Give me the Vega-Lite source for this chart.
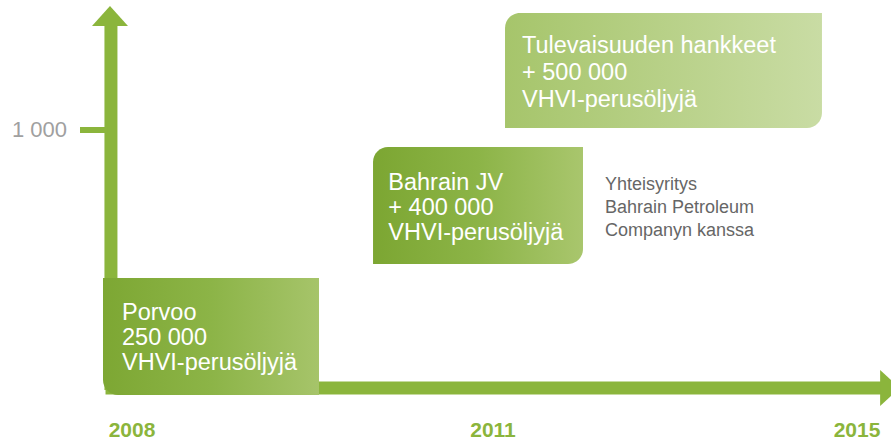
{
  "$schema": "https://vega.github.io/schema/vega-lite/v6.json",
  "width": 891,
  "height": 443,
  "autosize": {"type": "none"},
  "padding": 0,
  "background": "#ffffff",
  "config": {"view": {"stroke": null}, "text": {"font": "Liberation Sans"}},
  "datasets": {
    "frame": [
      {"part": "y-axis", "x": 2007.825, "x2": 2007.825, "y": -7.75, "y2": 1410},
      {"part": "x-axis", "x": 2007.78, "x2": 2015.3, "y": 0, "y2": 0}
    ],
    "ticks": [
      {"value": 1000, "label": "1 000", "x": 2007.568, "x2": 2007.8, "lx": 2007.46, "ly": 972.9}
    ],
    "heads": [
      {"dir": "up", "x": 2007.817, "y": 1442},
      {"dir": "right", "x": 2015.363, "y": 0}
    ],
    "boxes": [
      {"name": "Porvoo", "x": 2007.759, "x2": 2009.554, "y": -27.1, "y2": 426.4},
      {"name": "Bahrain JV", "x": 2010.003, "x2": 2011.989, "y": 480.6, "y2": 934},
      {"name": "Tulevaisuuden hankkeet", "x": 2011.132, "x2": 2014.615, "y": 1007.8, "y2": 1453.5}
    ],
    "lines": [
      {"box": "Porvoo", "text": "Porvoo", "x": 2007.917, "y": 263.6},
      {"box": "Porvoo", "text": "250 000", "x": 2007.917, "y": 166.7},
      {"box": "Porvoo", "text": "VHVI-perusöljyjä", "x": 2007.917, "y": 69.8},
      {"box": "Bahrain JV", "text": "Bahrain JV", "x": 2010.13, "y": 767.4},
      {"box": "Bahrain JV", "text": "+ 400 000", "x": 2010.13, "y": 670.5},
      {"box": "Bahrain JV", "text": "VHVI-perusöljyjä", "x": 2010.13, "y": 573.6},
      {"box": "Tulevaisuuden hankkeet", "text": "Tulevaisuuden hankkeet", "x": 2011.319, "y": 1298.4},
      {"box": "Tulevaisuuden hankkeet", "text": "+ 500 000", "x": 2011.319, "y": 1193.8},
      {"box": "Tulevaisuuden hankkeet", "text": "VHVI-perusöljyjä", "x": 2011.319, "y": 1089.1}
    ],
    "notes": [
      {"text": "Yhteisyritys", "x": 2012.231, "y": 767.4},
      {"text": "Bahrain Petroleum", "x": 2012.231, "y": 678.3},
      {"text": "Companyn kanssa", "x": 2012.231, "y": 589.1}
    ],
    "years": [
      {"label": "2008", "year": 2008, "y": -189.9},
      {"label": "2011", "year": 2011, "y": -189.9},
      {"label": "2015", "year": 2015, "y": -189.9}
    ]
  },
  "layer": [
    {
      "data": {"name": "frame"},
      "mark": {"type": "rule", "color": "#8bb53c", "strokeWidth": 13, "strokeCap": "butt"},
      "encoding": {
        "x": {"field": "x", "type": "quantitative", "scale": {"domain": [2008, 2011, 2015], "range": [132, 493, 857], "nice": false, "zero": false}, "axis": null},
        "x2": {"field": "x2"},
        "y": {"field": "y", "type": "quantitative", "scale": {"domain": [0, 1000], "range": [388, 130], "nice": false, "zero": false}, "axis": null},
        "y2": {"field": "y2"}
      }
    },
    {
      "data": {"name": "ticks"},
      "mark": {"type": "rule", "color": "#8bb53c", "strokeWidth": 6, "strokeCap": "butt"},
      "encoding": {
        "x": {"field": "x", "type": "quantitative"},
        "x2": {"field": "x2"},
        "y": {"field": "value", "type": "quantitative"}
      }
    },
    {
      "data": {"name": "ticks"},
      "mark": {"type": "text", "align": "right", "baseline": "alphabetic", "fontSize": 22, "color": "#a0a0a0"},
      "encoding": {
        "x": {"field": "lx", "type": "quantitative"},
        "y": {"field": "ly", "type": "quantitative"},
        "text": {"field": "label", "type": "nominal"}
      }
    },
    {
      "data": {"name": "heads"},
      "transform": [{"filter": "datum.dir === 'up'"}],
      "mark": {"type": "point", "shape": "M -1 0.56 L 1 0.56 L 0 -0.56 Z", "size": 1296, "filled": true, "opacity": 1, "color": "#8bb53c", "strokeWidth": 0},
      "encoding": {
        "x": {"field": "x", "type": "quantitative"},
        "y": {"field": "y", "type": "quantitative"}
      }
    },
    {
      "data": {"name": "heads"},
      "transform": [{"filter": "datum.dir === 'right'"}],
      "mark": {"type": "point", "shape": "M -0.55 -1 L -0.55 1 L 0.55 0 Z", "size": 1296, "filled": true, "opacity": 1, "color": "#8bb53c", "strokeWidth": 0},
      "encoding": {
        "x": {"field": "x", "type": "quantitative"},
        "y": {"field": "y", "type": "quantitative"}
      }
    },
    {
      "data": {"name": "boxes"},
      "transform": [{"filter": "datum.name === 'Porvoo'"}],
      "mark": {"type": "rect", "cornerRadiusBottomLeft": 15,
        "fill": {"gradient": "linear", "x1": 0, "y1": 0, "x2": 1, "y2": 0, "stops": [{"offset": 0, "color": "#7da733"}, {"offset": 0.5, "color": "#8cb447"}, {"offset": 1, "color": "#a6c46a"}]}},
      "encoding": {
        "x": {"field": "x", "type": "quantitative"},
        "x2": {"field": "x2"},
        "y": {"field": "y", "type": "quantitative"},
        "y2": {"field": "y2"}
      }
    },
    {
      "data": {"name": "boxes"},
      "transform": [{"filter": "datum.name === 'Bahrain JV'"}],
      "mark": {"type": "rect", "cornerRadiusTopLeft": 15, "cornerRadiusBottomRight": 15,
        "fill": {"gradient": "linear", "x1": 0, "y1": 0, "x2": 1, "y2": 0, "stops": [{"offset": 0, "color": "#7ca632"}, {"offset": 0.5, "color": "#8cb447"}, {"offset": 1, "color": "#a9c66d"}]}},
      "encoding": {
        "x": {"field": "x", "type": "quantitative"},
        "x2": {"field": "x2"},
        "y": {"field": "y", "type": "quantitative"},
        "y2": {"field": "y2"}
      }
    },
    {
      "data": {"name": "boxes"},
      "transform": [{"filter": "datum.name === 'Tulevaisuuden hankkeet'"}],
      "mark": {"type": "rect", "cornerRadiusTopLeft": 15, "cornerRadiusBottomRight": 15,
        "fill": {"gradient": "linear", "x1": 0, "y1": 0, "x2": 1, "y2": 0, "stops": [{"offset": 0, "color": "#a6c56b"}, {"offset": 1, "color": "#c9dca4"}]}},
      "encoding": {
        "x": {"field": "x", "type": "quantitative"},
        "x2": {"field": "x2"},
        "y": {"field": "y", "type": "quantitative"},
        "y2": {"field": "y2"}
      }
    },
    {
      "data": {"name": "lines"},
      "mark": {"type": "text", "align": "left", "baseline": "alphabetic", "fontSize": 23.5, "color": "#ffffff"},
      "encoding": {
        "x": {"field": "x", "type": "quantitative"},
        "y": {"field": "y", "type": "quantitative"},
        "text": {"field": "text", "type": "nominal"}
      }
    },
    {
      "data": {"name": "notes"},
      "mark": {"type": "text", "align": "left", "baseline": "alphabetic", "fontSize": 18, "color": "#666666"},
      "encoding": {
        "x": {"field": "x", "type": "quantitative"},
        "y": {"field": "y", "type": "quantitative"},
        "text": {"field": "text", "type": "nominal"}
      }
    },
    {
      "data": {"name": "years"},
      "mark": {"type": "text", "align": "center", "baseline": "alphabetic", "fontSize": 21, "fontWeight": "bold", "color": "#8bb53c"},
      "encoding": {
        "x": {"field": "year", "type": "quantitative"},
        "y": {"field": "y", "type": "quantitative"},
        "text": {"field": "label", "type": "nominal"}
      }
    }
  ]
}
